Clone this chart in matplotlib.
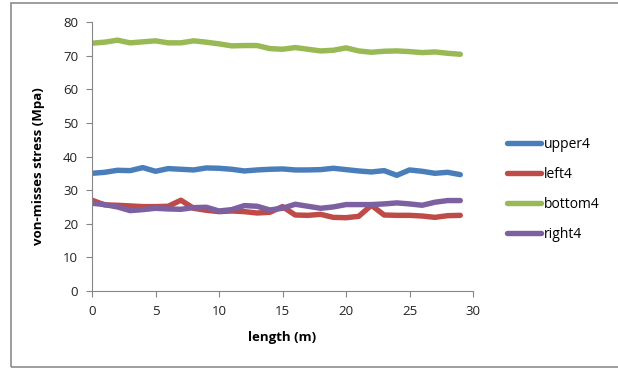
import matplotlib.pyplot as plt
from matplotlib.patches import Rectangle

# position along the member (m)
length = [0, 1, 2, 3, 4, 5, 6, 7, 8, 9, 10, 11, 12, 13, 14,
          15, 16, 17, 18, 19, 20, 21, 22, 23, 24, 25, 26, 27, 28, 29]

upper4 = [35.0, 35.3, 35.9, 35.8, 36.7, 35.6, 36.4, 36.2, 36.0, 36.6,
          36.5, 36.2, 35.7, 36.0, 36.2, 36.3, 36.0, 36.0, 36.1, 36.5,
          36.1, 35.7, 35.4, 35.8, 34.4, 36.0, 35.6, 35.0, 35.3, 34.6]
left4 = [27.0, 25.6, 25.5, 25.3, 25.1, 25.1, 25.2, 27.0, 24.6, 24.0,
         23.6, 23.8, 23.6, 23.2, 23.4, 25.1, 22.6, 22.5, 22.8, 21.9,
         21.8, 22.2, 25.5, 22.6, 22.5, 22.5, 22.3, 21.9, 22.4, 22.5]
bottom4 = [73.7, 74.0, 74.6, 73.8, 74.1, 74.4, 73.8, 73.8, 74.4, 74.0,
           73.5, 72.9, 73.0, 73.0, 72.1, 71.9, 72.4, 71.9, 71.4, 71.6,
           72.3, 71.4, 71.0, 71.3, 71.4, 71.2, 70.9, 71.1, 70.7, 70.4]
right4 = [26.1, 25.7, 25.0, 23.9, 24.2, 24.6, 24.4, 24.3, 24.8, 24.9,
          23.8, 24.2, 25.4, 25.2, 24.1, 24.6, 25.8, 25.2, 24.6, 25.0,
          25.7, 25.7, 25.7, 25.9, 26.2, 25.9, 25.5, 26.4, 26.9, 26.9]

series = [('upper4', upper4, '#4A7EBB'),
          ('left4', left4, '#BE4B48'),
          ('bottom4', bottom4, '#98B954'),
          ('right4', right4, '#7D60A0')]

plt.rcParams['font.family'] = ['Open Sans', 'DejaVu Sans']

fig = plt.figure(figsize=(6.18, 3.70), dpi=100)
ax = fig.add_axes([92/618, 1-291/370, (473-92)/618, (291-22)/370])

for name, vals, col in series:
    ax.plot(length, vals, color=col, lw=3.9, label=name,
            solid_capstyle='round', solid_joinstyle='round')

ax.set_xlim(0, 30)
ax.set_ylim(0, 80)
ax.set_xticks(range(0, 31, 5))
ax.set_yticks(range(0, 81, 10))
for s in ['top', 'right']:
    ax.spines[s].set_visible(False)
for s in ['left', 'bottom']:
    ax.spines[s].set_color('#868686')
    ax.spines[s].set_linewidth(0.8)
ax.tick_params(axis='both', color='#868686', length=4, width=0.8,
               labelsize=9.5, labelcolor='#222222')
ax.tick_params(axis='y', pad=6)
ax.tick_params(axis='x', pad=6)

ax.set_xlabel('length (m)', fontsize=9.5, fontweight='bold')
ax.set_ylabel('von-misses stress (Mpa)', fontsize=9.5, fontweight='bold')
ax.xaxis.set_label_coords(0.5, -0.148)
ax.yaxis.set_label_coords(-0.123, 0.465)

fig.legend(loc='upper left', bbox_to_anchor=(494/618, 1-124/370),
           frameon=False, fontsize=10, handlelength=2.5, handletextpad=0.2,
           labelspacing=1.08)

# outer chart border
fig.add_artist(Rectangle((11/618, 3/370), 1.0, 364/370, transform=fig.transFigure,
                         fill=False, edgecolor='#8c8c8c', lw=1.2))

fig.savefig('out.png', dpi=100)
